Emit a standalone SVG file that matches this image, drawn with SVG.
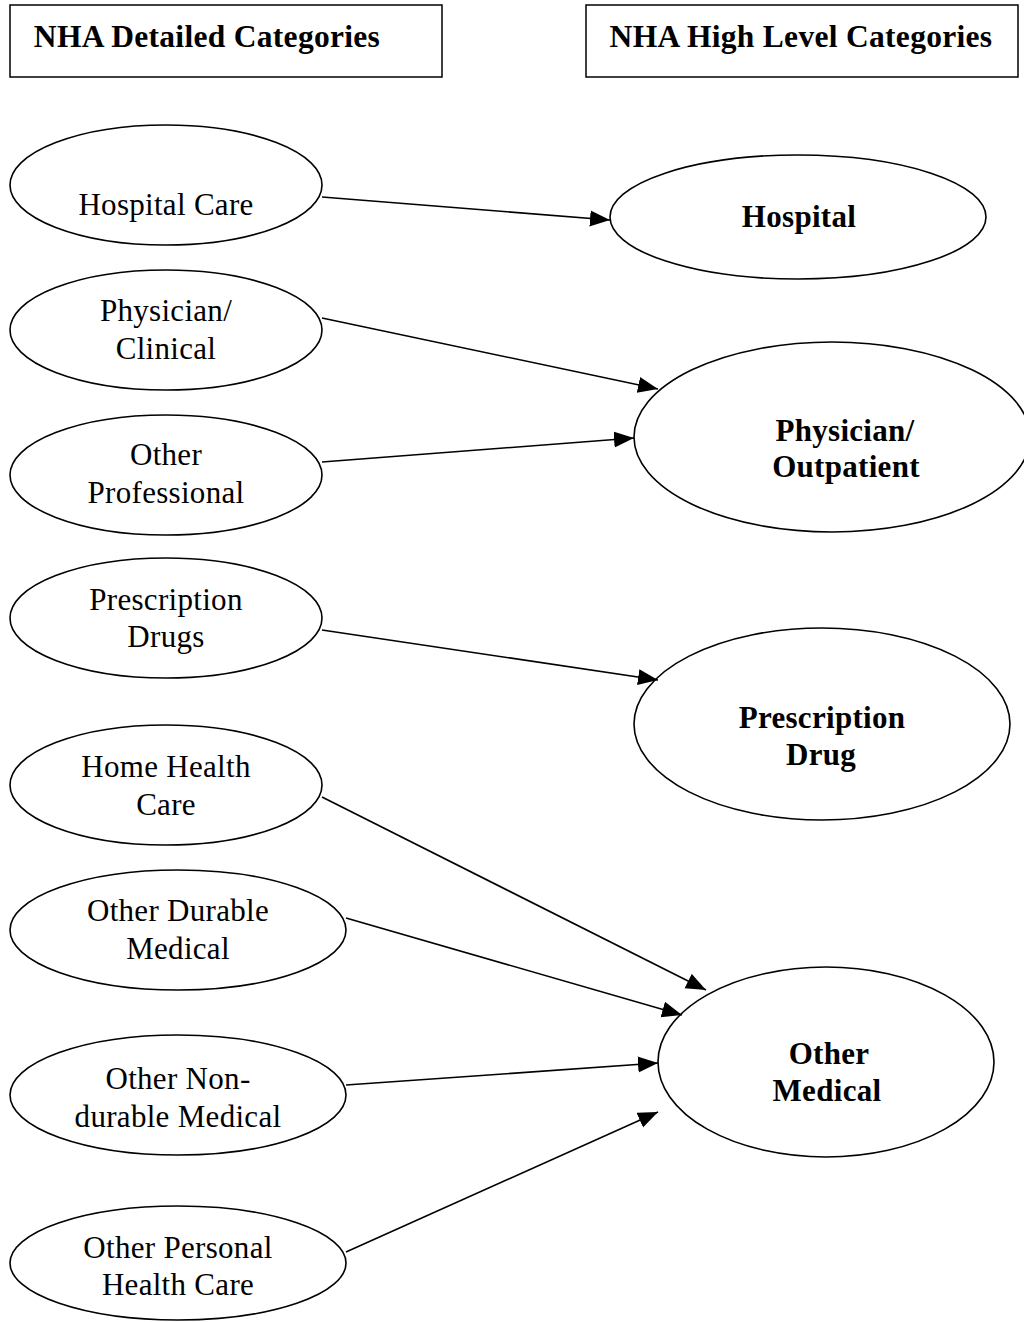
<svg xmlns="http://www.w3.org/2000/svg" width="1024" height="1322" viewBox="0 0 1024 1322">
<style>
.bg{fill:#fff}
.box{fill:#fff;stroke:#000;stroke-width:1.5}
.el{fill:#fff;stroke:#000;stroke-width:1.6}
.t{font-family:"Liberation Serif","Times New Roman",serif;font-size:31px;fill:#000;text-anchor:middle;letter-spacing:0.3px}
.b{font-family:"Liberation Serif","Times New Roman",serif;font-size:31px;font-weight:bold;fill:#000;text-anchor:middle;letter-spacing:0.3px}
.h{font-size:31.5px}
.c line{stroke:#000;stroke-width:1.6;marker-end:url(#ah)}
</style>
<defs>
<marker id="ah" markerUnits="userSpaceOnUse" markerWidth="22" markerHeight="18" refX="20" refY="8" orient="auto">
<path d="M0,0 L20,8 L0,16 z" fill="#000"/>
</marker>
</defs>
<rect class="bg" x="0" y="0" width="1024" height="1322"/>
<g id="hdr-left"><rect class="box" x="10" y="5" width="432" height="72"/><text class="b h" x="207" y="47">NHA Detailed Categories</text></g>
<g id="hdr-right"><rect class="box" x="586" y="5" width="432" height="72"/><text class="b h" x="801" y="47">NHA High Level Categories</text></g>

<g id="n-hospital-care"><ellipse class="el" cx="166" cy="185" rx="156" ry="60"/><text class="t" x="166" y="215">Hospital Care</text></g>
<g id="n-physician-clinical"><ellipse class="el" cx="166" cy="330" rx="156" ry="60"/><text class="t" x="166" y="321">Physician/</text><text class="t" x="166" y="359">Clinical</text></g>
<g id="n-other-prof"><ellipse class="el" cx="166" cy="475" rx="156" ry="60"/><text class="t" x="166" y="465">Other</text><text class="t" x="166" y="503">Professional</text></g>
<g id="n-rx-drugs"><ellipse class="el" cx="166" cy="618" rx="156" ry="60"/><text class="t" x="166" y="610">Prescription</text><text class="t" x="166" y="647">Drugs</text></g>
<g id="n-home-health"><ellipse class="el" cx="166" cy="785" rx="156" ry="60"/><text class="t" x="166" y="777">Home Health</text><text class="t" x="166" y="815">Care</text></g>
<g id="n-durable"><ellipse class="el" cx="178" cy="930" rx="168" ry="60"/><text class="t" x="178" y="921">Other Durable</text><text class="t" x="178" y="959">Medical</text></g>
<g id="n-nondurable"><ellipse class="el" cx="178" cy="1095" rx="168" ry="60"/><text class="t" x="178" y="1089">Other Non-</text><text class="t" x="178" y="1127">durable Medical</text></g>
<g id="n-personal"><ellipse class="el" cx="178" cy="1263" rx="168" ry="57"/><text class="t" x="178" y="1258">Other Personal</text><text class="t" x="178" y="1295">Health Care</text></g>

<g id="n-hospital"><ellipse class="el" cx="798" cy="217" rx="188" ry="62"/><text class="b" x="799" y="227">Hospital</text></g>
<g id="n-physician-outpatient"><ellipse class="el" cx="832" cy="437" rx="198" ry="95"/><text class="b" x="845" y="441">Physician/</text><text class="b" x="846" y="477">Outpatient</text></g>
<g id="n-prescription-drug"><ellipse class="el" cx="822" cy="724" rx="188" ry="96"/><text class="b" x="822" y="728">Prescription</text><text class="b" x="821" y="765">Drug</text></g>
<g id="n-other-medical"><ellipse class="el" cx="826" cy="1062" rx="168" ry="95"/><text class="b" x="829" y="1064">Other</text><text class="b" x="827" y="1101">Medical</text></g>

<g id="connectors" class="c">
<line x1="322" y1="197" x2="610" y2="220"/>
<line x1="322" y1="318" x2="658" y2="389"/>
<line x1="322" y1="462" x2="634" y2="438"/>
<line x1="322" y1="630" x2="658" y2="680"/>
<line x1="322" y1="797" x2="706" y2="990"/>
<line x1="346" y1="918" x2="682" y2="1015"/>
<line x1="346" y1="1085" x2="658" y2="1063"/>
<line x1="346" y1="1252" x2="658" y2="1112"/>
</g>
</svg>
